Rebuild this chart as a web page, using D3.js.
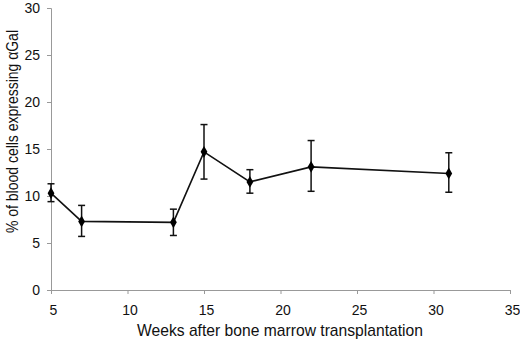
<!DOCTYPE html>
<html>
<head>
<meta charset="utf-8">
<script src="https://cdn.jsdelivr.net/npm/d3@7"></script>
<style>
  body { margin: 0; background: #fff; }
  svg { display: block; font-family: "Liberation Sans", Arial, sans-serif; }
</style>
</head>
<body>
<svg id="chart" width="520" height="339"></svg>
<script>
// values
const weeks = [5, 7, 13, 15, 18, 22, 31];
const percent = [10.3, 7.3, 7.2, 14.7, 11.5, 13.1, 12.4];
const errUpper = [11.3, 9.0, 8.6, 17.6, 12.8, 15.9, 14.6];
const errLower = [9.4, 5.7, 5.8, 11.8, 10.3, 10.5, 10.4];
const xTicks = [5, 10, 15, 20, 25, 30, 35];
const yTicks = [0, 5, 10, 15, 20, 25, 30];

const svg = d3.select("#chart");
const margin = { top: 8, right: 10, bottom: 49, left: 51 };
const width = +svg.attr("width"), height = +svg.attr("height");

const x = d3.scaleLinear().domain([5, 35]).range([margin.left, width - margin.right]);
const y = d3.scaleLinear().domain([0, 30]).range([height - margin.bottom, margin.top]);

const axisColor = "#999";

// x axis
const xAxis = svg.append("g")
  .attr("transform", `translate(0,${height - margin.bottom})`)
  .call(d3.axisBottom(x).tickValues(xTicks).tickSize(4).tickPadding(11));
xAxis.select(".domain").attr("stroke", axisColor);
xAxis.selectAll(".tick line").attr("stroke", axisColor);
xAxis.selectAll("text").attr("fill", "#111").style("font-size", "14px").attr("dx", 2);

// y axis
const yAxis = svg.append("g")
  .attr("transform", `translate(${margin.left},0)`)
  .call(d3.axisLeft(y).tickValues(yTicks).tickSize(4).tickPadding(7));
yAxis.select(".domain").attr("stroke", axisColor);
yAxis.selectAll(".tick line").attr("stroke", axisColor);
yAxis.selectAll("text").attr("fill", "#111").style("font-size", "14px");

// axis titles
svg.append("text")
  .attr("x", 280)
  .attr("y", 335.5)
  .attr("text-anchor", "middle")
  .attr("fill", "#111")
  .attr("textLength", 286)
  .attr("lengthAdjust", "spacingAndGlyphs")
  .style("font-size", "17px")
  .text("Weeks after bone marrow transplantation");

svg.append("text")
  .attr("transform", "rotate(-90)")
  .attr("x", -131.5)
  .attr("y", 18)
  .attr("text-anchor", "middle")
  .attr("fill", "#111")
  .attr("textLength", 203)
  .attr("lengthAdjust", "spacingAndGlyphs")
  .style("font-size", "16px")
  .text("% of blood cells expressing \u03b1Gal");

const data = weeks.map((w, i) => ({ w, v: percent[i], hi: errUpper[i], lo: errLower[i] }));

// error bars
const eb = svg.append("g").attr("stroke", "#111").attr("stroke-width", 1.5);
data.forEach(d => {
  eb.append("line").attr("x1", x(d.w)).attr("x2", x(d.w)).attr("y1", y(d.hi)).attr("y2", y(d.lo));
  eb.append("line").attr("x1", x(d.w) - 3.5).attr("x2", x(d.w) + 3.5).attr("y1", y(d.hi)).attr("y2", y(d.hi));
  eb.append("line").attr("x1", x(d.w) - 3.5).attr("x2", x(d.w) + 3.5).attr("y1", y(d.lo)).attr("y2", y(d.lo));
});

// line
const line = d3.line().x(d => x(d.w)).y(d => y(d.v));
svg.append("path")
  .datum(data)
  .attr("fill", "none")
  .attr("stroke", "#111")
  .attr("stroke-width", 1.6)
  .attr("d", line);

// markers (diamonds)
svg.append("g").selectAll("path")
  .data(data)
  .join("path")
  .attr("transform", d => `translate(${x(d.w)},${y(d.v)})`)
  .attr("d", d3.symbol().type(d3.symbolDiamond).size(40))
  .attr("fill", "#000");
</script>
</body>
</html>
